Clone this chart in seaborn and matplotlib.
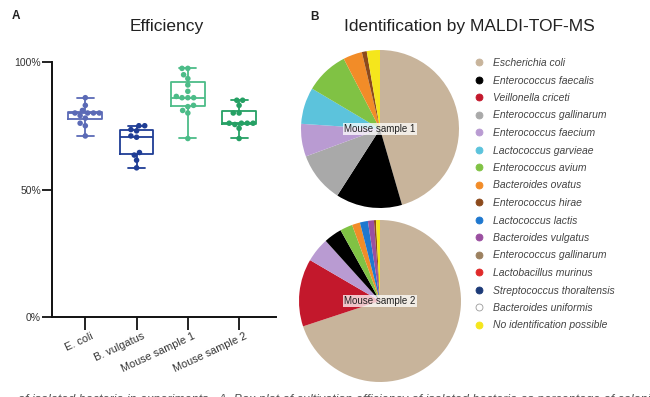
import numpy as np
import pandas as pd
import matplotlib
matplotlib.use("Agg")
import matplotlib.pyplot as plt
import matplotlib.transforms as mtransforms
from matplotlib.lines import Line2D
import seaborn as sns

# ---------------- data ----------------
groups = ["E. coli", "B. vulgatus", "Mouse sample 1", "Mouse sample 2"]
ecoli = [86, 83, 81, 80, 80, 80, 80, 79, 78, 76, 75, 71]
bvulgatus = [75, 75, 73.5, 73, 71, 70.5, 64.5, 63.5, 61.5, 58.5]
mouse1 = [97.5, 97.5, 95, 93.5, 91, 88.5, 86.5, 86, 86, 86, 83, 82.5, 81, 80, 70]
mouse2 = [85, 85, 83, 80, 80, 76, 76, 76, 76, 75.5, 74, 70]
group_colors = ["#5b6ab6", "#1f3d95", "#4cbc88", "#25a064"]
yticks = [0, 50, 100]
ytick_labels = ["0%", "50%", "100%"]

species = ["Escherichia coli", "Enterococcus faecalis", "Veillonella criceti",
           "Enterococcus gallinarum", "Enterococcus faecium", "Lactococcus garvieae",
           "Enterococcus avium", "Bacteroides ovatus", "Enterococcus hirae",
           "Lactococcus lactis", "Bacteroides vulgatus", "Enterococcus gallinarum",
           "Lactobacillus murinus", "Streptococcus thoraltensis", "Bacteroides uniformis",
           "No identification possible"]
species_colors = ["#c8b49b", "#000000", "#c3182c", "#a9a9a9", "#b99bd2", "#5cc3dc",
                  "#80c244", "#f28c28", "#8c4a1c", "#1f78cf", "#9a4fa0", "#9c8160",
                  "#e02a2a", "#1c3a78", "#ffffff", "#f5e61c"]

pie1_species = ["Escherichia coli", "Enterococcus faecalis", "Enterococcus gallinarum",
                "Enterococcus faecium", "Lactococcus garvieae", "Enterococcus avium",
                "Bacteroides ovatus", "Enterococcus hirae", "No identification possible"]
pie1_values = [45.6, 13.6, 10.3, 6.7, 7.5, 8.9, 3.9, 1.0, 2.7]

pie2_species = ["Escherichia coli", "Veillonella criceti", "Enterococcus faecium",
                "Enterococcus faecalis", "Enterococcus avium", "Bacteroides ovatus",
                "Lactococcus lactis", "Bacteroides vulgatus", "Enterococcus hirae",
                "No identification possible"]
pie2_values = [70.0, 13.5, 4.9, 3.6, 2.5, 1.6, 1.6, 1.2, 0.4, 0.8]

caption = ("of isolated bacteria in experiments.  A. Box plot of cultivation efficiency of "
           "isolated bacteria as percentage of colonies identified")

# ---------------- style ----------------
sns.set_style("white")
plt.rcParams["font.family"] = ["Liberation Sans", "DejaVu Sans"]

W, H = 650, 397
fig = plt.figure(figsize=(W / 100, H / 100), dpi=100)

def fbox(x0, y0, x1, y1):
    return [x0 / W, 1 - y1 / H, (x1 - x0) / W, (y1 - y0) / H]

# ---------------- panel A ----------------
axA = fig.add_axes(fbox(52, 62, 276, 317))
df = pd.DataFrame({
    "group": np.repeat(groups, [len(ecoli), len(bvulgatus), len(mouse1), len(mouse2)]),
    "value": ecoli + bvulgatus + mouse1 + mouse2,
})
sns.boxplot(data=df, x="group", y="value", hue="group", order=groups, hue_order=groups,
            palette=group_colors, fill=False, whis=(0, 100), width=0.66, linewidth=1.3,
            showfliers=False, legend=False, ax=axA)
sns.swarmplot(data=df, x="group", y="value", hue="group", order=groups, hue_order=groups,
              palette=group_colors, size=4, legend=False, ax=axA, clip_on=False)
axA.set_xlim(-0.65, 3.72)
axA.set_ylim(0, 100)
axA.set_yticks(yticks)
axA.set_yticklabels(ytick_labels, fontsize=7.5, color="#333333")
axA.set_xlabel("")
axA.set_ylabel("")
for s in ["top", "right"]:
    axA.spines[s].set_visible(False)
for s in ["left", "bottom"]:
    axA.spines[s].set_linewidth(1.4)
    axA.spines[s].set_color("#111111")
axA.tick_params(axis="y", direction="out", length=7, width=1.3, color="#111111", pad=1, left=True)
axA.tick_params(axis="x", direction="out", length=9, width=1.3, color="#111111", pad=1, bottom=True)
offset = mtransforms.ScaledTranslation(5 / 100, 0, fig.dpi_scale_trans)
for lab in axA.get_xticklabels():
    lab.set_rotation(25)
    lab.set_ha("right")
    lab.set_rotation_mode("anchor")
    lab.set_fontsize(7.8)
    lab.set_color("#333333")
    lab.set_transform(lab.get_transform() + offset)

fig.text(167 / W, 1 - 26 / H, "Efficiency", ha="center", va="center", fontsize=12.5, color="#222222")
fig.text(12 / W, 1 - 16 / H, "A", ha="left", va="center", fontsize=8.5, fontweight="bold", color="#222222")

# ---------------- panel B ----------------
color_of = {}
for n, c in zip(species, species_colors):
    color_of.setdefault(n, c)

def draw_pie(box, names, values, label):
    ax = fig.add_axes(fbox(*box))
    ax.pie(values, colors=[color_of[n] for n in names], startangle=90, counterclock=False,
           radius=1, wedgeprops=dict(linewidth=0))
    ax.set_xlim(-1, 1)
    ax.set_ylim(-1, 1)
    ax.set_aspect("equal")
    ax.axis("off")
    ax.text(0, 0, label, ha="center", va="center", fontsize=7, color="#222222",
            bbox=dict(facecolor="white", alpha=0.75, edgecolor="none", pad=1))
    return ax

draw_pie((301, 50, 459, 208), pie1_species, pie1_values, "Mouse sample 1")
draw_pie((299, 220, 461, 382), pie2_species, pie2_values, "Mouse sample 2")

fig.text(469 / W, 1 - 26 / H, "Identification by MALDI-TOF-MS", ha="center", va="center",
         fontsize=12.5, color="#222222")
fig.text(310 / W, 1 - 17 / H, "B", ha="left", va="center", fontsize=8.5, fontweight="bold", color="#222222")

handles = []
for n, c in zip(species, species_colors):
    ec = "#9a9a9a" if c == "#ffffff" else c
    handles.append(Line2D([], [], marker="o", ls="", markerfacecolor=c, markeredgecolor=ec,
                          markeredgewidth=0.6, markersize=5))
fig.legend(handles, species, loc="upper left", bbox_to_anchor=(474 / W, 1 - 58 / H),
           frameon=False, borderpad=0, borderaxespad=0, handlelength=1.0, handletextpad=0.85,
           labelspacing=0.72, prop=dict(family="Liberation Sans", style="italic", size=7.5),
           labelcolor="#444444")

# caption line cut off at the bottom edge, as in the source image
fig.text(18 / W, -6 / H, caption, ha="left", va="baseline", fontsize=9, style="italic",
         color="#555555")

fig.savefig("out.png", dpi=100)
